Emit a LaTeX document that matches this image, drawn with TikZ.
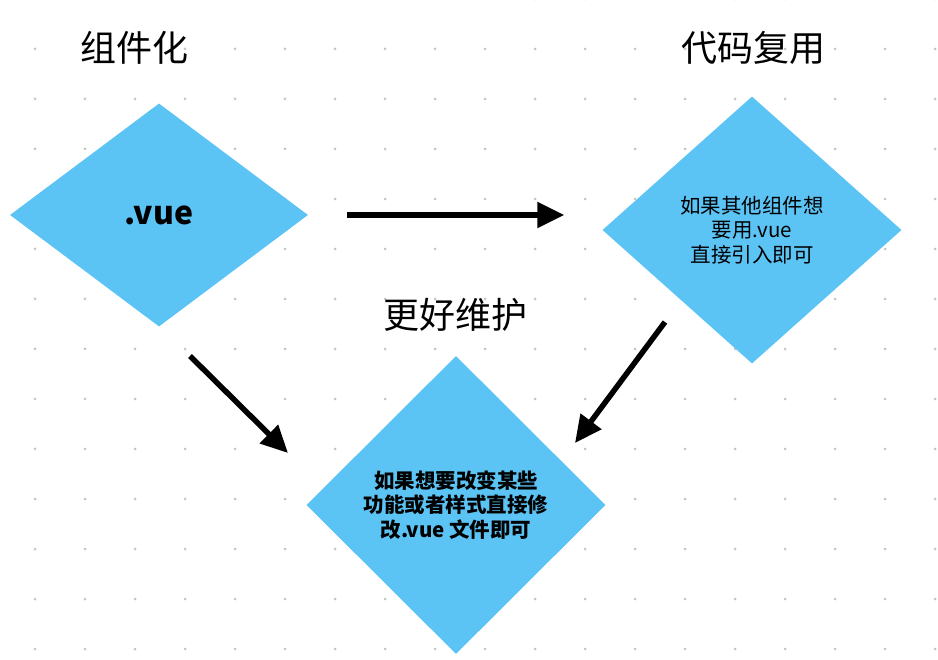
\documentclass[tikz,border=0pt]{standalone}
\usepackage{fontspec}
\setmainfont{Noto Sans CJK SC}
\usepackage{xcolor}
\usetikzlibrary{
	arrows.meta,
	positioning,
	shapes.geometric
}
\definecolor{dotgray}{RGB}{196,196,196}
\definecolor{vueblue}{RGB}{91,196,245}

\begin{document}
\begin{tikzpicture}[x=1pt,y=-1pt,>={Triangle[length=27pt,width=25pt]},
	box/.style={diamond,fill=vueblue,inner sep=0pt,align=center},
	title/.style={font=\fontsize{36}{40}\selectfont},
	arr/.style={->,line width=5.5pt}]
				
				\useasboundingbox (0,0) rectangle (938,660);
				
				% Dot grid
				\foreach \x in {35,85,...,935}
				{
					\foreach \y in {-1,49,...,649}
					{
						\fill[dotgray] (\x,\y) circle (1.5pt);
					}
				}
				
				% Diamonds
				\node[box,minimum width=298pt,minimum height=223pt,
					font=\fontsize{32}{40}\selectfont\bfseries] (vue) at (159,215) {.vue};
				
				\node[box,minimum width=299pt,minimum height=267pt,
					font=\fontsize{20.5}{24.5}\selectfont] (reuse) at (752,230)
					{如果其他组件想\\要用.vue\\直接引入即可};
				
				\node[box,minimum width=299pt,minimum height=298pt,
					font=\fontsize{20.5}{24.5}\selectfont\bfseries] (maintain) at (456,505)
					{如果想要改变某些\\功能或者样式直接修\\改.vue 文件即可};
				
				% Titles
				\node[title] (tcomp) at (134,48) {组件化};
				\node[title] (treuse) at (753,48) {代码复用};
				\node[title] (tmaint) at (455,315) {更好维护};
				
				% Arrows
				\coordinate (a2s) at (190,356);
				\coordinate (a2e) at (288,453);
				\coordinate (a3s) at (665,322);
				\coordinate (a3e) at (575,443);
				
				\draw[arr,shorten <=39pt,shorten >=38pt] (vue.east)--(vue.east -| reuse.west);
				\draw[arr] (a2s)--(a2e);
				\draw[arr] (a3s)--(a3e);
				
			\end{tikzpicture}
\end{document}
